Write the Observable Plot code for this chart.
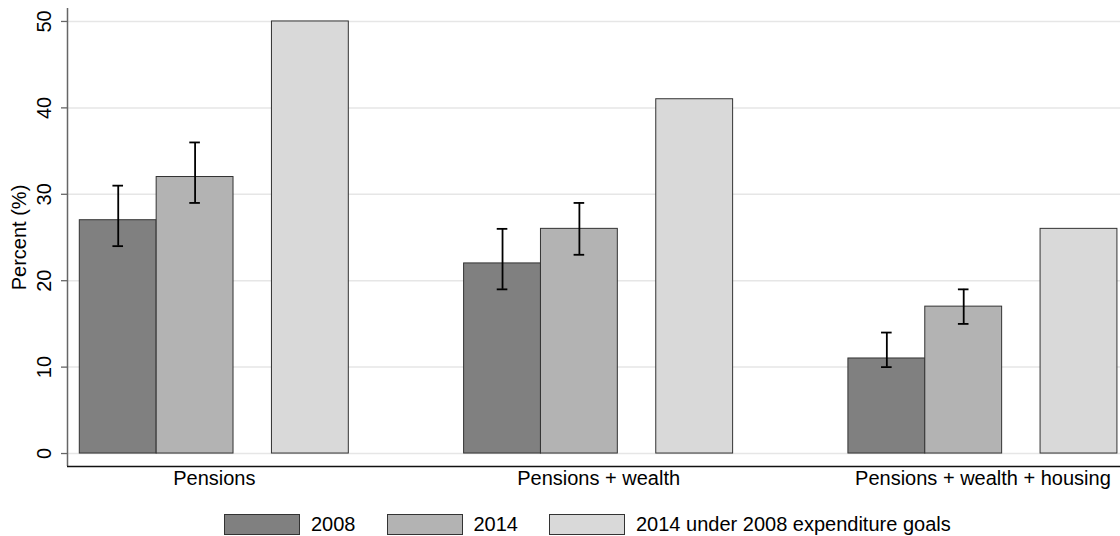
<!DOCTYPE html>
<html>
<head>
<meta charset="utf-8">
<script src="https://cdn.jsdelivr.net/npm/d3@7"></script>
<script src="https://cdn.jsdelivr.net/npm/@observablehq/plot@0.6"></script>
<style>
  html, body { margin: 0; padding: 0; background: #fff; }
  #chart { width: 1120px; }
  .legend { display: flex; align-items: center; height: 36px; box-sizing: border-box; padding-top: 12px; padding-left: 224px;
    font-family: "Liberation Sans", Arial, Helvetica, sans-serif; font-size: 20px; color: #000; line-height: 20px; }
  .legend .item { display: flex; align-items: center; margin-right: 31px; }
  .legend .sw { width: 76px; height: 21px; box-sizing: border-box; border: 1px solid #333; margin-right: 11px; }
</style>
</head>
<body>
<div id="chart"></div>
<script>
// ---- data ----
const groups = ["Pensions", "Pensions + wealth", "Pensions + wealth + housing"];
const series = ["2008", "2014", "2014 under 2008 expenditure goals"];
const v2008 = [27, 22, 11];
const v2014 = [32, 26, 17];
const vUnder2008Goals = [50, 41, 26];
const ci2008Low = [24, 19, 10];
const ci2008High = [31, 26, 14];
const ci2014Low = [29, 23, 15];
const ci2014High = [36, 29, 19];
const yTicks = [0, 10, 20, 30, 40, 50];

// ---- layout (bar units) ----
const fills = ["#808080", "#b3b3b3", "#d9d9d9"];
const slot = [0, 1, 2.5];
const period = 5;
const capHalf = 0.069;
const values = [v2008, v2014, vUnder2008Goals];

const rows = groups.flatMap((g, i) => series.map((s, j) => ({
  group: g, series: s, value: values[j][i],
  x1: i * period + slot[j], x2: i * period + slot[j] + 1
})));
const ciLow = [ci2008Low, ci2014Low];
const ciHigh = [ci2008High, ci2014High];
const errs = groups.flatMap((g, i) => [0, 1].map(j => ({
  group: g, series: series[j], lo: ciLow[j][i], hi: ciHigh[j][i],
  c: i * period + slot[j] + 0.5
})));
const labels = groups.map((g, i) => ({ name: g, c: i * period + 1.75 }));

const xMin = -0.16, xMax = 13.54;
const font = "Liberation Sans, Arial, Helvetica, sans-serif";

const chart = Plot.plot({
  width: 1120, height: 500,
  marginLeft: 67, marginRight: 0, marginTop: 8, marginBottom: 34,
  x: { domain: [xMin, xMax], axis: null },
  y: { domain: [-1.5, 51.5], axis: null },
  color: { domain: series, range: fills },
  style: { fontFamily: font, fontSize: "20px", color: "#000", background: "#fff" },
  marks: [
    Plot.gridY(yTicks, { stroke: "#e6e6e6", strokeOpacity: 1, strokeWidth: 1.5 }),
    Plot.rectY(rows, { x1: "x1", x2: "x2", y1: 0, y2: "value", fill: "series", stroke: "#333", strokeWidth: 1 }),
    Plot.ruleX(errs, { x: "c", y1: "lo", y2: "hi", stroke: "#000", strokeWidth: 1.8 }),
    Plot.ruleY(errs, { x1: d => d.c - capHalf, x2: d => d.c + capHalf, y: "lo", stroke: "#000", strokeWidth: 1.8 }),
    Plot.ruleY(errs, { x1: d => d.c - capHalf, x2: d => d.c + capHalf, y: "hi", stroke: "#000", strokeWidth: 1.8 }),
    Plot.ruleX([xMin], { stroke: "#666", strokeWidth: 1.5 }),
    Plot.ruleY([-1.5], { stroke: "#111", strokeWidth: 1.5 }),
    Plot.axisY(yTicks, { tickSize: 6, tickFormat: () => "", stroke: "#666", strokeWidth: 1.3 }),
    Plot.text(yTicks, { y: d => d, text: d => String(d), frameAnchor: "left", dx: -23, rotate: -90,
      textAnchor: "middle", lineAnchor: "middle", fill: "#000", fontSize: 20 }),
    Plot.text(["Percent (%)"], { frameAnchor: "left", dx: -48, rotate: -90, textAnchor: "middle",
      lineAnchor: "middle", fill: "#000", fontSize: 20 }),
    Plot.text(labels, { x: "c", y: -1.5, text: "name", lineAnchor: "top", dy: 4, fill: "#000", fontSize: 20 })
  ]
});
document.getElementById("chart").append(chart);

const legend = document.createElement("div");
legend.className = "legend";
series.forEach((s, j) => {
  const item = document.createElement("div");
  item.className = "item";
  const sw = document.createElement("div");
  sw.className = "sw";
  sw.style.background = fills[j];
  const t = document.createElement("span");
  t.textContent = s;
  item.append(sw, t);
  legend.append(item);
});
document.getElementById("chart").append(legend);
</script>
</body>
</html>
